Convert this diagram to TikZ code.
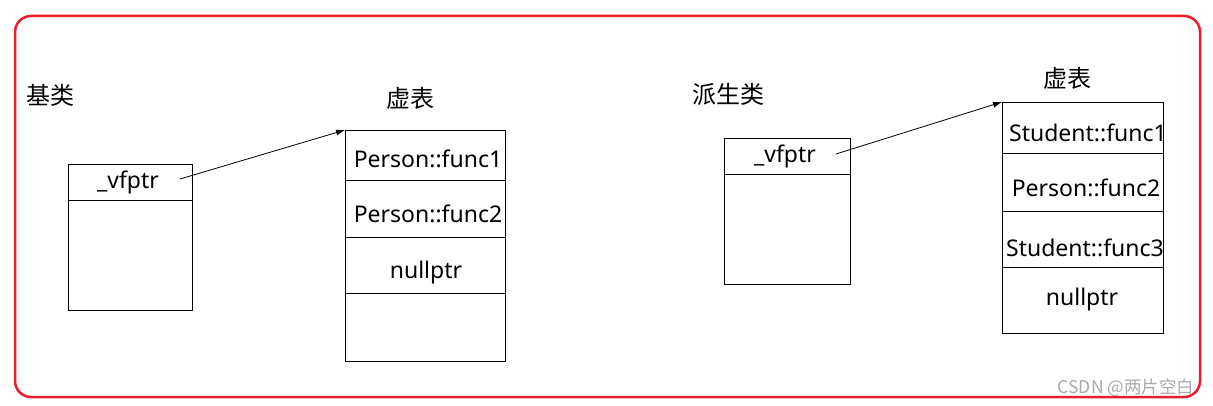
\documentclass[tikz,border=0pt]{standalone}
\usepackage{fontspec}
\setmainfont{Noto Sans}
\newfontfamily\cjk{Noto Sans CJK SC}
\usetikzlibrary{arrows.meta}
\definecolor{framered}{RGB}{232,30,40}
\definecolor{wmgray}{RGB}{170,170,170}
\begin{document}
\begin{tikzpicture}[x=1pt,y=-1pt,
  cell/.style={draw, line width=1pt, inner sep=0pt, anchor=north west},
  txt/.style={anchor=base, inner sep=0pt, font=\fontsize{23}{27}\selectfont},
  cjklabel/.style={inner sep=0pt, font=\cjk\fontsize{24}{28}\selectfont},
  arr/.style={line width=0.8pt, -{Latex[length=9pt,width=6pt]}}]
\useasboundingbox (0,0) rectangle (1213,406);
\draw[framered, line width=2.5pt, rounded corners=16pt] (15,16) rectangle (1200,397);

% base class
\node[cjklabel] (lbase) at (51,95) {基类};
\node[cell, minimum width=124pt, minimum height=36pt] (bhead) at (68,164) {};
\node[cell, minimum width=124pt, minimum height=110pt] (bbody) at (68,200) {};
\node[txt] (bptr) at (128,189) {\_vfptr};
\coordinate (bstart) at (180,179);

% base vtable
\node[cjklabel] (lvt) at (410,98) {虚表};
\node[cell, minimum width=160pt, minimum height=50pt] (bv1) at (345,130) {};
\node[cell, minimum width=160pt, minimum height=57pt] (bv2) at (345,180) {};
\node[cell, minimum width=160pt, minimum height=56pt] (bv3) at (345,237) {};
\node[cell, minimum width=160pt, minimum height=68pt] (bv4) at (345,293) {};
\node[txt] (bt1) at (428,168) {Person::func1};
\node[txt] (bt2) at (428,223) {Person::func2};
\node[txt] (bt3) at (426,279) {nullptr};
\draw[arr] (bstart) -- (bv1.north west);

% derived class
\node[cjklabel] (lder) at (728,94) {派生类};
\node[cell, minimum width=126pt, minimum height=36pt] (dhead) at (724,138) {};
\node[cell, minimum width=126pt, minimum height=110pt] (dbody) at (724,174) {};
\node[txt] (dptr) at (785,163) {\_vfptr};
\coordinate (dstart) at (836,154);

% derived vtable
\node[cjklabel] (rvt) at (1067,78) {虚表};
\node[cell, minimum width=161pt, minimum height=51pt] (dv1) at (1002,102) {};
\node[cell, minimum width=161pt, minimum height=58pt] (dv2) at (1002,153) {};
\node[cell, minimum width=161pt, minimum height=56pt] (dv3) at (1002,211) {};
\node[cell, minimum width=161pt, minimum height=66pt] (dv4) at (1002,267) {};
\node[txt] (dt1) at (1088,142) {Student::func1};
\node[txt] (dt2) at (1086,197) {Person::func2};
\node[txt] (dt3) at (1085,257) {Student::func3};
\node[txt] (dt4) at (1082,305) {nullptr};
\draw[arr] (dstart) -- (dv1.north west);

% watermark
\node[inner sep=0pt, text=wmgray, font=\cjk\fontsize{17.5}{20}\selectfont] (wm) at (1126,388) {CSDN @两片空白};
\end{tikzpicture}
\end{document}
